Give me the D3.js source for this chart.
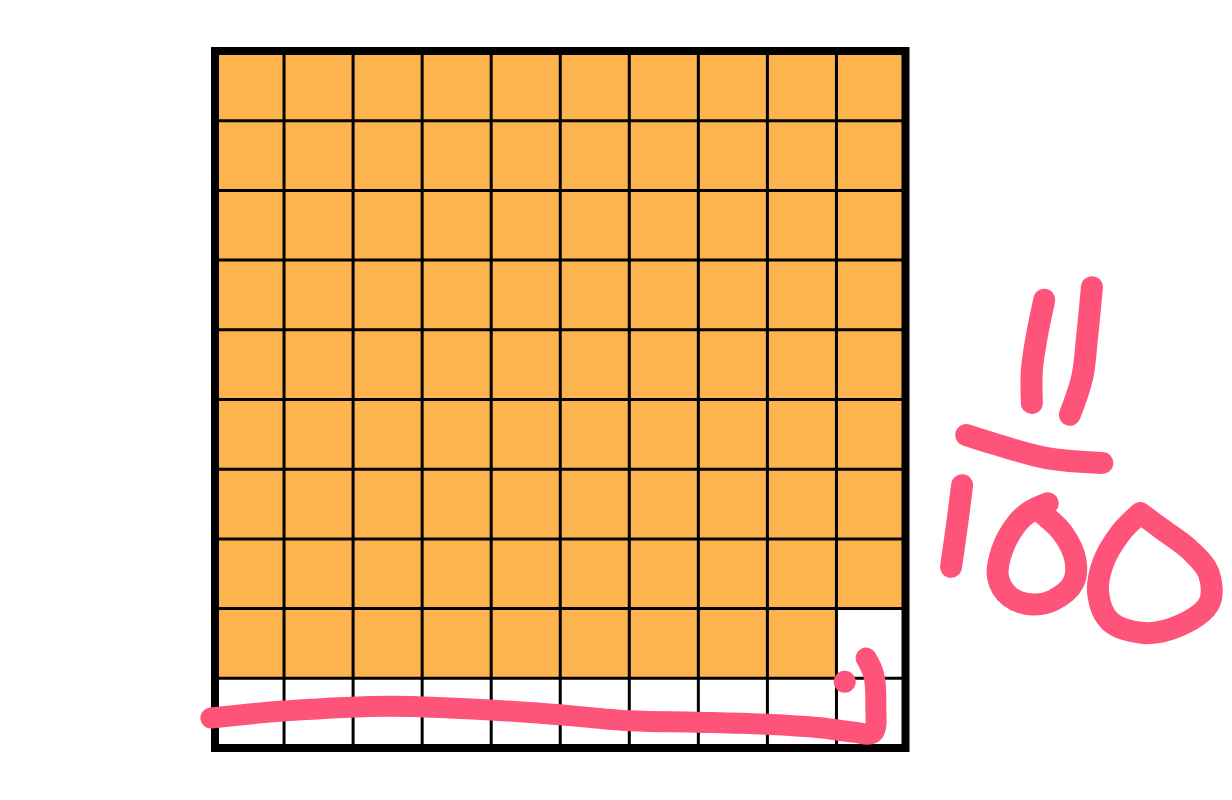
<!DOCTYPE html>
<html>
<head>
<meta charset="utf-8">
<script src="https://cdn.jsdelivr.net/npm/d3@7"></script>
<style>
  html, body { margin: 0; padding: 0; background: #ffffff; }
  svg { display: block; }
</style>
</head>
<body>
<script>
// ---- data ----
const gridSize = 10;          // 10 x 10 hundred-grid
const totalCells = 100;
const shadedCells = 89;       // shaded in row-major order
const cellIndices = d3.range(totalCells);

// hand-drawn annotation strokes, in grid units (column, row)
const strokeBottom = [[-0.06,9.57],[0.99,9.47],[2.53,9.40],[4.71,9.50],[6.01,9.61],[6.98,9.63],[7.99,9.66],[8.76,9.71],[9.24,9.77],[9.53,9.78],[9.57,9.38],[9.54,8.95],[9.43,8.71]];
const dotMark = [[9.12,9.05]];
const stroke1a = [[12.01,3.57],[11.90,4.10],[11.83,4.58],[11.83,5.05]];
const stroke1b = [[12.70,3.39],[12.63,4.10],[12.56,4.68],[12.38,5.22]];
const strokeBar = [[10.88,5.51],[11.33,5.65],[12.05,5.84],[12.85,5.91]];
const stroke1c = [[10.82,6.23],[10.75,6.77],[10.66,7.40]];
const stroke0a = [[12.06,6.49],[11.80,6.61],[11.62,6.77],[11.40,7.16],[11.34,7.55],[11.51,7.83],[11.85,7.94],[12.14,7.88],[12.43,7.63],[12.46,7.30],[12.28,6.92],[12.05,6.69],[11.95,6.61]];
const stroke0b = [[13.40,6.63],[13.11,6.92],[12.86,7.35],[12.79,7.78],[12.96,8.18],[13.44,8.35],[13.98,8.24],[14.40,7.92],[14.39,7.49],[14.12,7.16],[13.73,6.87],[13.40,6.63]];

// ---- layout ----
const W = 1232, H = 800;
const gx0 = 215, gx1 = 905.5, gy0 = 51, gy1 = 748;
const fillColor = "#FDB44E";
const penColor = "#FF5479";

const svg = d3.select("body").append("svg").attr("width", W).attr("height", H);

const x = d3.scaleLinear().domain([0, gridSize]).range([gx0, gx1]);
const y = d3.scaleLinear().domain([0, gridSize]).range([gy0, gy1]);

// cells
svg.append("g").selectAll("rect").data(cellIndices).join("rect")
  .attr("x", d => x(d % gridSize))
  .attr("y", d => y(Math.floor(d / gridSize)))
  .attr("width", x(1) - x(0))
  .attr("height", y(1) - y(0))
  .attr("fill", d => d < shadedCells ? fillColor : "#ffffff");

// inner grid lines
const inner = d3.range(1, gridSize);
const gl = svg.append("g").attr("stroke", "#000").attr("stroke-width", 3);
gl.selectAll("line.v").data(inner).join("line").attr("class", "v")
  .attr("x1", d => x(d)).attr("x2", d => x(d)).attr("y1", y(0)).attr("y2", y(gridSize));
gl.selectAll("line.h").data(inner).join("line").attr("class", "h")
  .attr("y1", d => y(d)).attr("y2", d => y(d)).attr("x1", x(0)).attr("x2", x(gridSize));

// outer border
svg.append("rect")
  .attr("x", x(0)).attr("y", y(0))
  .attr("width", x(gridSize) - x(0)).attr("height", y(gridSize) - y(0))
  .attr("fill", "none").attr("stroke", "#000").attr("stroke-width", 8);

// annotations
const line = d3.line().x(d => x(d[0])).y(d => y(d[1])).curve(d3.curveCatmullRom.alpha(0.5));
const pen = svg.append("g").attr("fill", "none").attr("stroke", penColor)
  .attr("stroke-linecap", "round").attr("stroke-linejoin", "round");
pen.append("path").attr("d", line(strokeBottom)).attr("stroke-width", 21);
[stroke1a, stroke1b, strokeBar, stroke1c, stroke0a, stroke0b].forEach(s => {
  pen.append("path").attr("d", line(s)).attr("stroke-width", 22);
});
svg.append("g").selectAll("circle").data(dotMark).join("circle")
  .attr("cx", d => x(d[0])).attr("cy", d => y(d[1])).attr("r", 11).attr("fill", penColor);
</script>
</body>
</html>
